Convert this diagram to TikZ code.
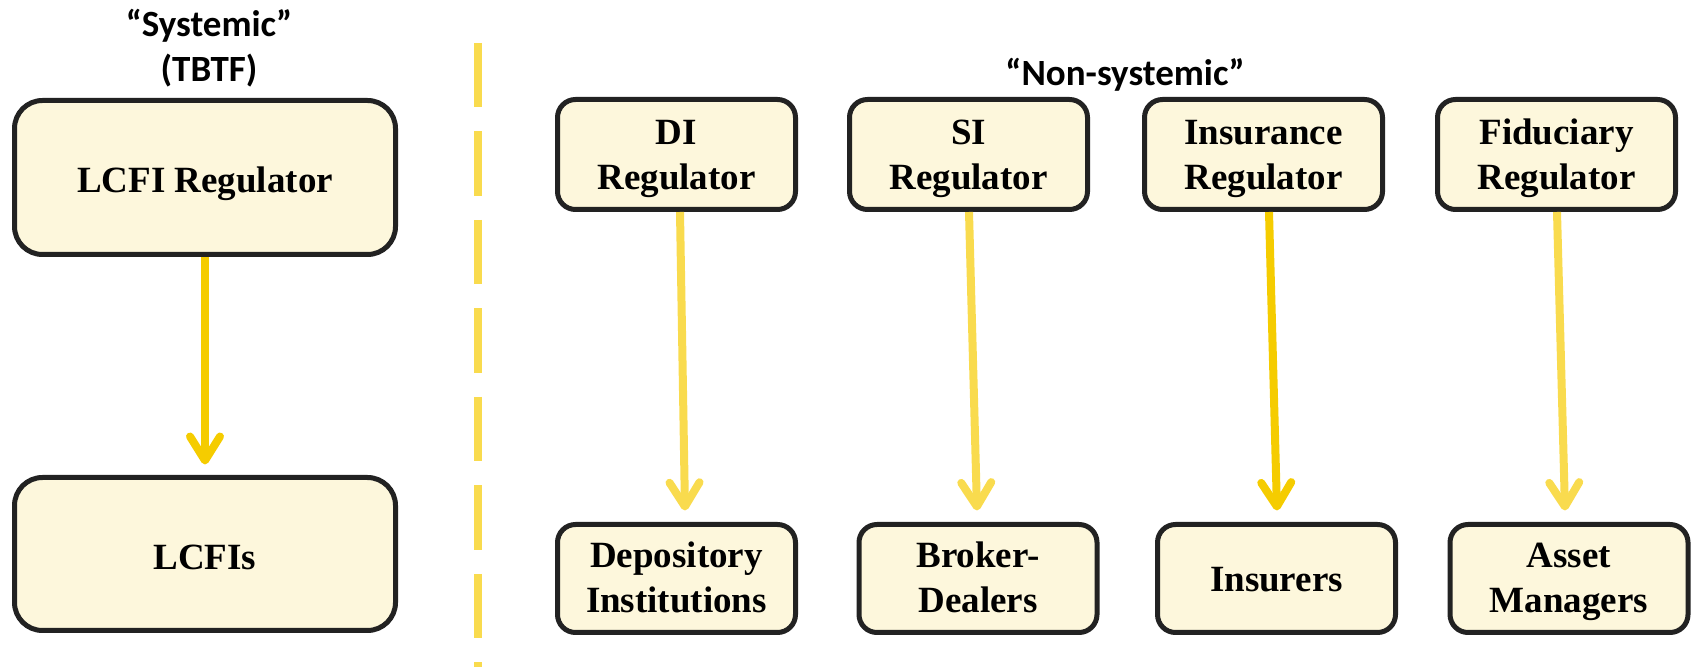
\documentclass[tikz,border=0pt]{standalone}
\usepackage{fontspec}
\setmainfont{Liberation Serif}
\newfontfamily\lblfont{Carlito}
\usetikzlibrary{arrows.meta,calc}
\definecolor{boxfill}{HTML}{FDF7DC}
\definecolor{boxline}{HTML}{222222}
\definecolor{lightarrow}{HTML}{F9DB4E}
\definecolor{darkarrow}{HTML}{F5CC00}
\begin{document}
\begin{tikzpicture}[x=0.5pt,y=-0.5pt,
  regbox/.style={draw=boxline, line width=2.5pt, fill=boxfill, rounded corners=9pt, align=center, font=\fontsize{18.5pt}{22.5pt}\selectfont\bfseries, inner sep=0pt},
  bigbox/.style={regbox, rounded corners=14pt, minimum width=190.5pt, minimum height=77pt, text height=15.5pt, text depth=0pt},
  topbox/.style={regbox, minimum width=119pt, minimum height=55pt, text height=37pt, text depth=1.5pt},
  botbox/.style={regbox, minimum width=119pt, minimum height=54pt, text height=36pt, text depth=1.5pt},
  onebox/.style={regbox, minimum width=119pt, minimum height=54pt, text height=13.5pt, text depth=0pt},
  lbl/.style={font=\lblfont\fontsize{18.5pt}{22.5pt}\selectfont\bfseries, align=center, inner sep=0pt},
  arr/.style={line width=4pt, -{Straight Barb[length=12pt,width=15pt,round]}},
  sepline/.style={draw=lightarrow, line width=4pt, dash pattern=on 32.25pt off 12pt}
]
\useasboundingbox (0,0) rectangle (1692,667);

% labels
\node[lbl, anchor=base] (sys) at (209,82) {“Systemic”\\(TBTF)};
\node[lbl, anchor=base] (nonsys) at (1125,86) {“Non-systemic”};

% separator
\coordinate (septop) at (478,43);
\coordinate (sepbot) at (478,667);
\draw[sepline] (septop) -- (sepbot);

% systemic side
\node[bigbox] (lcfireg) at (205,177.5) {LCFI Regulator};
\node[bigbox, minimum height=76.5pt, text height=16pt] (lcfis) at (205,554) {LCFIs};

% non-systemic regulators
\node[topbox] (direg) at (676.5,154.5) {DI\\Regulator};
\node[topbox] (sireg) at (968.5,154.5) {SI\\Regulator};
\node[topbox] (insreg) at (1263.5,154.5) {Insurance\\Regulator};
\node[topbox] (fidreg) at (1556.5,154.5) {Fiduciary\\Regulator};

% regulated institutions
\node[botbox] (dep) at (676.5,578.5) {Depository\\Institutions};
\node[botbox] (broker) at (978,578.5) {Broker-\\Dealers};
\node[onebox] (insurers) at (1276.5,578.5) {Insurers};
\node[botbox] (asset) at (1569,578.5) {Asset\\Managers};

% arrows
\draw[arr, darkarrow] (lcfireg.south) -- ($(lcfis.north)+(0,-10.5)$);
\draw[arr, lightarrow] ($(direg.south)+(3.5,0)$) -- ($(dep.north)+(8.5,-11.5)$);
\draw[arr, lightarrow] ($(sireg.south)+(0.5,0)$) -- ($(broker.north)+(-1,-11.5)$);
\draw[arr, darkarrow] ($(insreg.south)+(5.5,0)$) -- ($(insurers.north)+(0.5,-11.5)$);
\draw[arr, lightarrow] ($(fidreg.south)+(0.5,0)$) -- ($(asset.north)+(-4,-11.5)$);
\end{tikzpicture}
\end{document}
